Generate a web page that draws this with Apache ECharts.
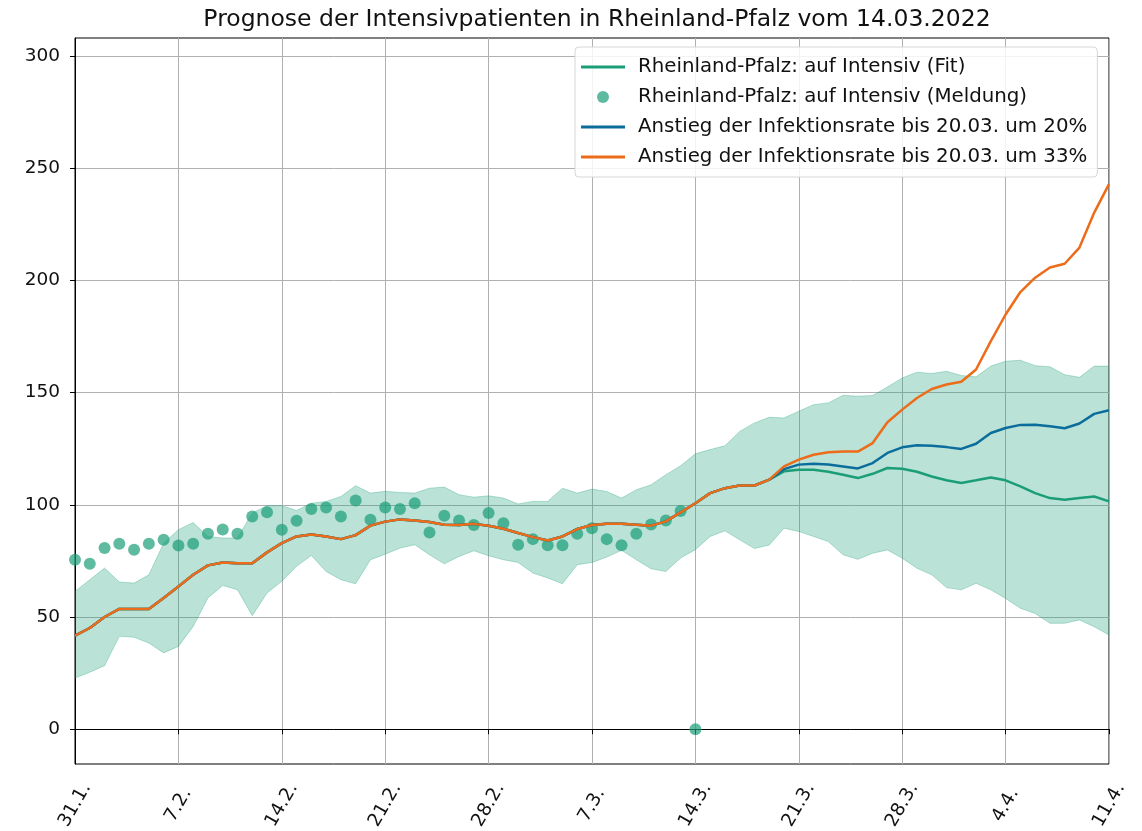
<!DOCTYPE html>
<html>
<head>
<meta charset="utf-8">
<script src="https://cdn.jsdelivr.net/npm/echarts@6/dist/echarts.min.js"></script>
<style>
  html, body { margin: 0; padding: 0; background: #fff; }
  #chart { width: 1142px; height: 831px; }
</style>
</head>
<body>
<div id="chart"></div>
<script>
// day index 0 = 31.1.2022, one value per day up to 11.4.
const tickLabels = ['31.1.', '7.2.', '14.2.', '21.2.', '28.2.', '7.3.', '14.3.', '21.3.', '28.3.', '4.4.', '11.4.'];
const yTicks = [0, 50, 100, 150, 200, 250, 300];

const fit = [
  41.7, 45.1, 50, 53.6, 53.6, 53.6, 58.5, 63.6, 68.8, 73,
  74.3, 74, 74, 78.8, 82.9, 85.9, 86.8, 85.9, 84.7, 86.5,
  90.7, 92.5, 93.5, 93, 92.3, 91.1, 91, 91.5, 90.7, 89.3,
  87.4, 85.6, 84.1, 85.9, 89.2, 91, 91.5, 91.5, 91.1, 90.7,
  92.6, 96.6, 100.7, 105.2, 107.4, 108.6, 108.6, 111.2, 114.9, 115.6,
  115.6, 114.7, 113.4, 111.9, 113.8, 116.4, 116.1, 114.7, 112.6, 110.9,
  109.7, 110.9, 112.2, 110.9, 108.2, 105.2, 103, 102.2, 103, 103.7,
  101.5
];

// scenarios follow the fit up to day 47, then split
const anstieg20Tail = [
  115.9, 117.9, 118.3, 118, 117.1, 116.2, 118.6, 123.1, 125.6, 126.5,
  126.3, 125.7, 124.9, 127.2, 132, 134.2, 135.6, 135.7, 135, 134.1,
  136.2, 140.5, 142.1
];
const anstieg33Tail = [
  117.1, 120.1, 122.3, 123.4, 123.7, 123.7, 127.5, 136.8, 142.4, 147.6,
  151.6, 153.6, 154.8, 160.3, 172.9, 184.8, 194.8, 201.2, 205.7, 207.4,
  214.6, 230.2, 242.9
];

const bandUpper = [
  61.4, 66.6, 71.8, 65.6, 65.1, 68.8, 82.9, 88.9, 92.1, 85.9,
  85.2, 85.2, 96.3, 99.6, 99.6, 97.5, 100.7, 101.5, 103.7, 108.5,
  105.2, 106, 105.5, 105.2, 107.4, 107.9, 104.5, 103.4, 104, 103,
  100.4, 101.5, 101.5, 107.4, 105.2, 107, 105.9, 103, 106.7, 108.9,
  113.4, 117.4, 122.7, 124.6, 126.3, 132.7, 136.5, 139, 138.7, 141.7,
  144.6, 145.4, 148.8, 148.4, 148.7, 152.5, 156.5, 159.1, 158.5, 159.5,
  157.6, 157, 161.8, 164, 164.4, 162, 161.5, 158, 156.8, 161.8,
  161.8
];
const bandLower = [
  22.8, 25.4, 28.3, 41.4, 41, 38.4, 34, 36.9, 45.8, 58.5,
  64, 62.2, 50.6, 60.7, 65.9, 72.6, 77.4, 70.3, 66.6, 64.8,
  75.5, 78, 80.7, 82.2, 77.7, 73.7, 77, 79.5, 77.3, 75.5,
  74.3, 69.6, 67.4, 64.8, 73.3, 74.3, 76.7, 79.7, 75.5, 71.5,
  70.3, 76.3, 80, 85.9, 88.4, 84.4, 80.5, 82.1, 89.6, 88.1,
  85.9, 83.6, 77.7, 75.7, 78.4, 79.9, 76.2, 71.7, 68.8, 63.1,
  62.1, 65, 62.1, 58.3, 53.9, 51.6, 47.2, 47.2, 48.7, 45.7,
  42
];

const meldung = [
  75.5, 73.7, 80.7, 82.6, 80, 82.6, 84.4, 81.9, 82.6, 87.1,
  89, 87.1, 94.8, 96.7, 88.9, 92.9, 98.1, 98.8, 94.8, 101.9,
  93.3, 98.8, 98.1, 100.7, 87.7, 95.1, 93, 91, 96.3, 91.8,
  82.2, 84.7, 82, 82, 87.1, 89.6, 84.7, 82, 87.1, 91.2,
  93, 97.2, 0
];

const green = '#1b9e77';
const blue = '#0b6d9b';
const orange = '#ec6c1a';

const days = fit.map((v, i) => String(i));
const anstieg20 = fit.slice(0, 48).concat(anstieg20Tail);
const anstieg33 = fit.slice(0, 48).concat(anstieg33Tail);
const bandWidth = bandUpper.map((v, i) => +(v - bandLower[i]).toFixed(1));

const chart = echarts.init(document.getElementById('chart'), null, { renderer: 'canvas' });

const font = 'DejaVu Sans';
const lineIcon = 'path://M0,0H44V3H0Z';

const option = {
  animation: false,
  backgroundColor: '#ffffff',
  textStyle: { fontFamily: font },
  title: {
    text: 'Prognose der Intensivpatienten in Rheinland-Pfalz vom 14.03.2022',
    left: 592,
    textAlign: 'center',
    top: 3,
    textStyle: { fontFamily: font, fontSize: 23.5, fontWeight: 'normal', color: '#111' }
  },
  grid: {
    left: 75,
    right: 33,
    top: 38,
    bottom: 67,
    show: true,
    borderColor: '#000',
    borderWidth: 1,
    backgroundColor: 'transparent',
    containLabel: false,
    outerBoundsMode: 'none'
  },
  legend: {
    orient: 'vertical',
    left: 575,
    top: 47,
    padding: [9, 10, 9, 6],
    itemWidth: 44,
    itemHeight: 12,
    itemGap: 8,
    backgroundColor: 'rgba(255,255,255,0.85)',
    borderColor: '#d6d6d6',
    borderWidth: 1,
    borderRadius: 4,
    textStyle: { fontFamily: font, fontSize: 19.8, color: '#111', lineHeight: 22, padding: [0, 0, 0, 8] },
    data: [
      { name: 'Rheinland-Pfalz: auf Intensiv (Fit)', icon: lineIcon },
      { name: 'Rheinland-Pfalz: auf Intensiv (Meldung)', icon: 'circle' },
      { name: 'Anstieg der Infektionsrate bis 20.03. um 20%', icon: lineIcon },
      { name: 'Anstieg der Infektionsrate bis 20.03. um 33%', icon: lineIcon }
    ]
  },
  xAxis: {
    type: 'category',
    data: days,
    boundaryGap: false,
    axisLine: { show: true, lineStyle: { color: '#000', width: 1 } },
    axisTick: { show: true, interval: 6, length: 5, lineStyle: { color: '#000' } },
    splitLine: { show: true, interval: 6, lineStyle: { color: '#b0b0b0', width: 1 } },
    axisLabel: {
      interval: 6,
      rotate: 60,
      align: 'center',
      verticalAlign: 'middle',
      margin: 41,
      fontSize: 18.5,
      color: '#111',
      fontFamily: font,
      formatter: (v, idx) => tickLabels[Math.round(idx / 7)] || ''
    }
  },
  yAxis: {
    type: 'value',
    min: -15.5,
    max: 308,
    axisLine: { show: true, lineStyle: { color: '#000', width: 1 } },
    axisTick: { show: true, length: 5, customValues: yTicks, lineStyle: { color: '#000' } },
    splitLine: { show: true, lineStyle: { color: '#b0b0b0', width: 1 } },
    axisLabel: {
      customValues: yTicks,
      margin: 15,
      fontSize: 18.5,
      color: '#111',
      fontFamily: font
    }
  },
  series: [
    {
      name: 'band-lower',
      type: 'line',
      stack: 'band',
      data: bandLower,
      symbol: 'none',
      lineStyle: { color: green, opacity: 0.3, width: 1 },
      z: 1,
      silent: true
    },
    {
      name: 'band',
      type: 'line',
      stack: 'band',
      data: bandWidth,
      symbol: 'none',
      lineStyle: { color: green, opacity: 0.3, width: 1 },
      areaStyle: { color: green, opacity: 0.3 },
      z: 1,
      silent: true
    },
    {
      name: 'Rheinland-Pfalz: auf Intensiv (Meldung)',
      type: 'scatter',
      data: meldung,
      symbolSize: 12,
      itemStyle: { color: green, opacity: 0.7 },
      z: 3
    },
    {
      name: 'Rheinland-Pfalz: auf Intensiv (Fit)',
      type: 'line',
      data: fit,
      symbol: 'none',
      lineStyle: { color: green, width: 2.5 },
      itemStyle: { color: green },
      z: 4
    },
    {
      name: 'Anstieg der Infektionsrate bis 20.03. um 20%',
      type: 'line',
      data: anstieg20,
      symbol: 'none',
      lineStyle: { color: blue, width: 2.5 },
      itemStyle: { color: blue },
      z: 5
    },
    {
      name: 'Anstieg der Infektionsrate bis 20.03. um 33%',
      type: 'line',
      data: anstieg33,
      symbol: 'none',
      lineStyle: { color: orange, width: 2.5 },
      itemStyle: { color: orange },
      z: 6
    }
  ]
};

chart.setOption(option);
</script>
</body>
</html>
